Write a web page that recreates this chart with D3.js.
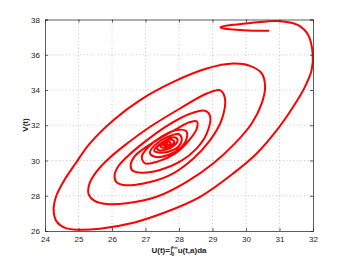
<!DOCTYPE html>
<html><head><meta charset="utf-8">
<script src="https://cdn.jsdelivr.net/npm/d3@7"></script>
<style>body{margin:0;background:#fff}svg{display:block}</style>
</head><body>
<script>
const xTicks = [24,25,26,27,28,29,30,31,32];
const yTicks = [26,28,30,32,34,36,38];
const uVals = [30.67,30.22,29.62,29.30,29.24,29.40,29.99,30.62,31.11,31.56,31.86,31.99,31.96,31.76,31.41,30.92,30.32,29.62,28.63,27.63,26.64,25.64,25.01,24.62,24.36,24.26,24.32,24.55,24.90,25.34,26.04,26.84,27.83,28.83,29.62,30.12,30.47,30.57,30.47,30.17,29.67,29.02,28.23,27.33,26.44,25.84,25.47,25.30,25.33,25.55,25.90,26.34,27.13,28.03,28.83,29.22,29.37,29.27,28.93,28.43,27.73,26.94,26.34,26.12,26.08,26.20,26.50,26.94,27.63,28.33,28.78,28.93,28.83,28.53,28.03,27.43,26.89,26.60,26.56,26.68,26.89,27.38,27.93,28.33,28.53,28.53,28.28,27.89,27.38,26.99,26.89,27.09,27.48,27.93,28.21,28.23,28.03,27.68,27.28,27.13,27.28,27.63,27.98,28.08,27.98,27.68,27.38,27.26,27.34,27.58,27.86,27.96,27.86,27.62,27.40,27.34,27.50,27.78,27.86,27.72,27.52,27.45,27.58,27.74,27.73,27.60,27.54,27.63,27.66,27.62];
const vVals = [37.36,37.36,37.43,37.50,37.57,37.65,37.77,37.89,37.89,37.68,37.11,36.07,35.13,34.18,33.05,31.72,30.40,29.27,27.94,27.09,26.47,26.13,26.07,26.16,26.50,27.10,27.90,28.80,29.80,30.97,32.29,33.43,34.46,35.22,35.50,35.37,34.94,34.18,33.24,32.10,30.97,29.83,28.79,27.94,27.57,27.53,27.72,28.10,28.70,29.40,30.10,30.80,31.90,32.95,33.80,33.99,33.55,32.29,31.16,30.12,29.17,28.70,28.61,28.80,29.20,29.70,30.30,31.00,31.95,32.65,32.82,32.50,31.54,30.69,29.93,29.46,29.31,29.45,29.80,30.25,30.60,31.20,31.80,32.18,32.22,31.80,31.10,30.40,29.95,29.84,30.21,30.78,31.35,31.73,31.67,31.25,30.69,30.31,30.21,30.44,30.87,31.31,31.50,31.25,30.78,30.50,30.45,30.55,30.80,31.12,31.32,31.16,30.86,30.62,30.58,30.72,31.00,31.18,31.05,30.82,30.72,30.80,30.98,31.04,30.92,30.83,30.88,30.96,30.93,30.91];

const W=346,H=260, m={l:45,r:33,t:19.5,b:29};
const svg=d3.select("body").append("svg").attr("width",W).attr("height",H);
const x=d3.scaleLinear().domain([24,32]).range([m.l,W-m.r]);
const y=d3.scaleLinear().domain([26,38]).range([H-m.b,m.t]);
const font="'Liberation Sans',Arial,sans-serif";

// grid
const g=svg.append("g").attr("stroke","#bbb").attr("stroke-width",0.8).attr("stroke-dasharray","1,2.5");
xTicks.slice(1,-1).forEach(t=>g.append("line").attr("x1",x(t)).attr("x2",x(t)).attr("y1",y(26)).attr("y2",y(38)));
yTicks.slice(1,-1).forEach(t=>g.append("line").attr("x1",x(24)).attr("x2",x(32)).attr("y1",y(t)).attr("y2",y(t)));

// data line
const pts=uVals.map((u,i)=>[u,vVals[i]]);
svg.append("path").datum(pts).attr("fill","none").attr("stroke","#ff0000").attr("stroke-width",2)
  .attr("stroke-linejoin","round").attr("stroke-linecap","round")
  .attr("d",d3.line().x(d=>x(d[0])).y(d=>y(d[1])).curve(d3.curveCatmullRom.alpha(0.5)));

// axes
const xa=svg.append("g").attr("transform",`translate(0,${y(26)})`).call(d3.axisBottom(x).tickValues(xTicks).tickSize(-3).tickPadding(5).tickFormat(d3.format("d")));
const xt=svg.append("g").attr("transform",`translate(0,${y(38)})`).call(d3.axisTop(x).tickValues(xTicks).tickSize(-3).tickFormat(""));
const ya=svg.append("g").attr("transform",`translate(${x(24)},0)`).call(d3.axisLeft(y).tickValues(yTicks).tickSize(-3).tickPadding(5).tickFormat(d3.format("d")));
const yr=svg.append("g").attr("transform",`translate(${x(32)},0)`).call(d3.axisRight(y).tickValues(yTicks).tickSize(-3).tickFormat(""));
[xa,xt,ya,yr].forEach(a=>{a.select(".domain").attr("stroke","#333").attr("stroke-width",0.8);a.selectAll(".tick line").attr("stroke","#333").attr("stroke-width",0.8);
  a.selectAll("text").attr("font-family",font).attr("font-size",8).attr("fill","#222");});

// labels
const xl=svg.append("text").attr("x",179).attr("y",253).attr("text-anchor","middle").attr("font-family",font).attr("font-size",8).attr("font-weight","bold").attr("fill","#222");
xl.append("tspan").text("U(t)=");
xl.append("tspan").text("∫").attr("font-weight","normal").attr("font-size",9);
xl.append("tspan").text("0").attr("font-size",5).attr("dy",3).attr("dx",-1);
xl.append("tspan").text("+∞").attr("font-size",5).attr("dy",-7).attr("dx",-3);
xl.append("tspan").text("u(t,a)da").attr("dy",4);
svg.append("text").attr("transform","translate(28,125) rotate(-90)").attr("text-anchor","middle").attr("font-family",font).attr("font-size",8).attr("font-weight","bold").attr("fill","#222").text("V(t)");
</script>
</body></html>
